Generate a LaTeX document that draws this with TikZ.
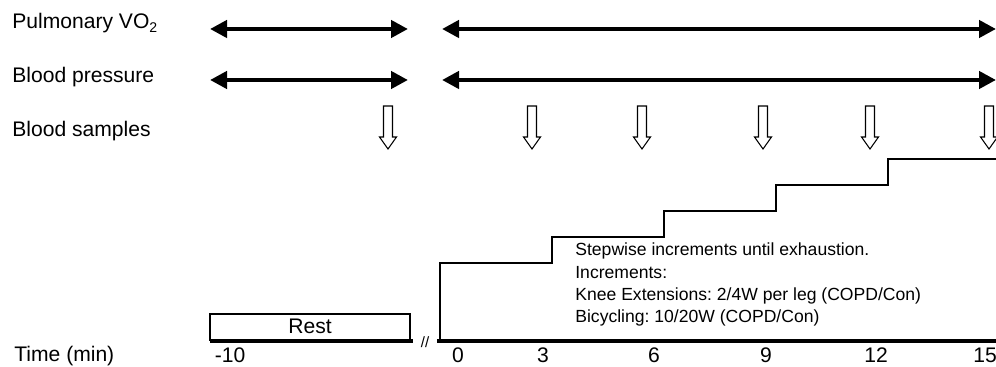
\documentclass[tikz,border=0pt]{standalone}
\usepackage{fontspec}
\setmainfont{Liberation Sans}
\usetikzlibrary{arrows.meta}
\frenchspacing

\begin{document}
\begin{tikzpicture}[x=0.02cm, y=-0.02cm,
    lbl/.style={anchor=base west, inner sep=0pt, font=\fontsize{12}{14}\selectfont},
    tick/.style={anchor=base, inner sep=0pt, font=\fontsize{12}{14}\selectfont},
    darr/.style={{Triangle[length=0.34cm, width=0.34cm]}-{Triangle[length=0.34cm, width=0.34cm]},
                 line width=2.6pt},
    sample/.style={draw, line width=0.6pt, fill=white, line join=miter},
    axis/.style={line width=2.2pt},
    stair/.style={line width=1.4pt, line join=miter},
    restbox/.style={draw, line width=1.4pt, inner sep=0pt, minimum width=4cm,
                    minimum height=0.52cm, font=\fontsize{12}{14}\selectfont}
]
    \useasboundingbox (0,0) rectangle (996,367);

    % row labels
    \node[lbl] (vo2)   at (12,29)  {Pulmonary VO\textsubscript{2}};
    \node[lbl] (bp)    at (12,83)  {Blood pressure};
    \node[lbl] (blood) at (12,137) {Blood samples};
    \node[lbl] (time)  at (14,361) {Time (min)};

    % measurement periods
    \coordinate (vo2a) at (210,29);  \coordinate (vo2b) at (408,29);
    \coordinate (vo2c) at (442,29);  \coordinate (vo2d) at (996,29);
    \coordinate (bpa)  at (210,80);  \coordinate (bpb)  at (408,80);
    \coordinate (bpc)  at (442,80);  \coordinate (bpd)  at (996,80);
    \draw[darr] (vo2a) -- (vo2b);
    \draw[darr] (vo2c) -- (vo2d);
    \draw[darr] (bpa) -- (bpb);
    \draw[darr] (bpc) -- (bpd);

    % blood sampling points
    \foreach \t in {388,532,642,763,870,989}
        \draw[sample] (\t-4.5,106) -- (\t+4.5,106) -- (\t+4.5,137) -- (\t+8.5,137)
                      -- (\t,149) -- (\t-8.5,137) -- (\t-4.5,137) -- cycle;

    % time axis
    \coordinate (ax0) at (210,341); \coordinate (ax1) at (413,341);
    \coordinate (ax2) at (437,341); \coordinate (ax3) at (996,341);
    \draw[axis] (ax0) -- (ax1);
    \draw[axis] (ax2) -- (ax3);
    \node[anchor=base, inner sep=0pt, font=\fontsize{8.5}{10}\selectfont] (brk) at (425,348) {//};

    \node[tick] (m10) at (230,362) {-10};
    \foreach \v/\x in {0/458, 3/543, 6/654, 9/766, 12/876, 15/985}
        \node[tick] (t\v) at (\x,362) {\v};

    % rest and stepwise load
    \node[restbox, anchor=south] (rest) at (310,341) {Rest};
    \draw[stair] (440,341) -- (440,263)
        \foreach \i in {1,...,4} { -- ({440+112*\i},{263-26*(\i-1)}) -- ({440+112*\i},{263-26*\i}) }
        -- (996,159);

    \node[anchor=base west, align=left, inner sep=0pt, font=\fontsize{10}{12.75}\selectfont] (note)
        at (575,323) {Stepwise increments until exhaustion.\\Increments:\\
                      Knee Extensions: 2/4W per leg (COPD/Con)\\Bicycling: 10/20W (COPD/Con)};
\end{tikzpicture}
\end{document}
